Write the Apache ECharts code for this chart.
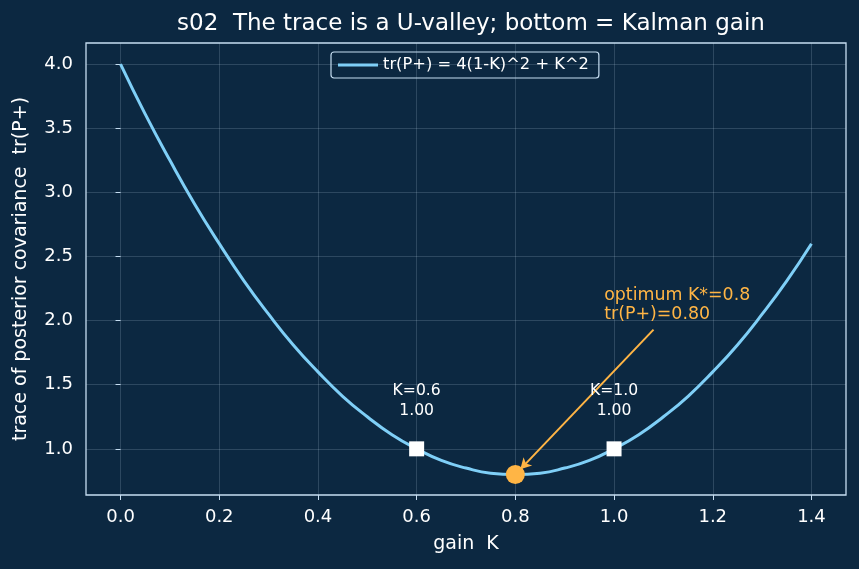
<!DOCTYPE html>
<html>
<head>
<meta charset="utf-8">
<script src="https://cdn.jsdelivr.net/npm/echarts@6/dist/echarts.min.js"></script>
<style>
  html, body { margin: 0; padding: 0; background: #0c2841; }
  #chart { width: 859px; height: 569px; }
</style>
</head>
<body>
<div id="chart"></div>
<script>
// gain K samples and the trace
var gainK = [0, 0.05, 0.1, 0.15, 0.2, 0.25, 0.3, 0.35, 0.4, 0.45, 0.5, 0.55, 0.6, 0.65, 0.7,
             0.75, 0.8, 0.85, 0.9, 0.95, 1.0, 1.05, 1.1, 1.15, 1.2, 1.25, 1.3, 1.35, 1.4];
var traceP = [4.0, 3.61, 3.25, 2.91, 2.6, 2.31, 2.05, 1.81, 1.6, 1.41, 1.25, 1.11, 1.0, 0.91, 0.85,
              0.81, 0.8, 0.81, 0.85, 0.91, 1.0, 1.11, 1.25, 1.41, 1.6, 1.81, 2.05, 2.31, 2.6];
// marked gains
var markK = [0.6, 1.0];
var markTr = [1.0, 1.0];
var optK = 0.8;
var optTr = 0.8;
// tick labels
var xTicks = [0, 0.2, 0.4, 0.6, 0.8, 1.0, 1.2, 1.4];
var yTicks = [1.0, 1.5, 2.0, 2.5, 3.0, 3.5, 4.0];
// arrow + note
var arrowFrom = [1.08, 1.93];
var arrowTo = [0.81, 0.84];
var notePos = [0.98, 2.0];

var curveColor = '#7fcff7';
var optColor = '#ffb545';
var frameColor = '#c6def2';
var font = 'DejaVu Sans';

var curveData = gainK.map(function (k, i) { return [k, traceP[i]]; });
var markData = markK.map(function (k, i) { return [k, markTr[i]]; });

var chart = echarts.init(document.getElementById('chart'));
var option = {
  backgroundColor: '#0c2841',
  animation: false,
  textStyle: { fontFamily: font },
  title: {
    text: 's02  The trace is a U-valley; bottom = Kalman gain',
    left: 466,
    textAlign: 'center',
    top: 8,
    textStyle: { color: '#ffffff', fontSize: 23, fontWeight: 'normal', fontFamily: font }
  },
  legend: {
    top: 52,
    left: 331,
    padding: [5, 10, 5, 7],
    borderColor: frameColor,
    borderWidth: 1.2,
    borderRadius: 3,
    itemWidth: 40,
    itemHeight: 3,
    textStyle: { color: '#ffffff', fontSize: 16.3, fontFamily: font },
    data: [{ name: 'tr(P+) = 4(1-K)^2 + K^2', icon: 'rect' }]
  },
  grid: { left: 86, right: 13, top: 43, bottom: 74, show: true, borderColor: frameColor, borderWidth: 1.3 },
  xAxis: {
    type: 'value',
    min: -0.07,
    max: 1.47,
    name: 'gain  K',
    nameLocation: 'middle',
    nameGap: 40,
    nameTextStyle: { color: '#ffffff', fontSize: 19, fontFamily: font },
    axisLine: { show: false },
    axisTick: { show: true, customValues: xTicks, length: 5, lineStyle: { color: frameColor } },
    axisLabel: {
      customValues: xTicks, color: '#ffffff', fontSize: 18, margin: 13,
      formatter: function (v) { return v.toFixed(1); }
    },
    splitLine: { show: true, lineStyle: { color: 'rgba(200,220,240,0.18)', width: 1 } }
  },
  yAxis: {
    type: 'value',
    min: 0.64,
    max: 4.165,
    name: 'trace of posterior covariance  tr(P+)',
    nameLocation: 'middle',
    nameGap: 55,
    nameTextStyle: { color: '#ffffff', fontSize: 19, fontFamily: font },
    axisLine: { show: false },
    axisTick: { show: true, customValues: yTicks, length: 5, lineStyle: { color: frameColor } },
    axisLabel: {
      customValues: yTicks, color: '#ffffff', fontSize: 18, margin: 13,
      formatter: function (v) { return v.toFixed(1); }
    },
    splitLine: { show: true, lineStyle: { color: 'rgba(200,220,240,0.18)', width: 1 } }
  },
  series: [
    {
      name: 'tr(P+) = 4(1-K)^2 + K^2',
      type: 'line',
      data: curveData,
      smooth: true,
      showSymbol: false,
      color: curveColor,
      lineStyle: { color: curveColor, width: 3 },
      z: 3
    },
    {
      name: 'marks',
      type: 'scatter',
      data: markData,
      symbol: 'rect',
      symbolSize: 15,
      itemStyle: { color: '#ffffff', opacity: 1 },
      label: {
        show: true,
        position: 'top',
        distance: 20,
        color: '#ffffff',
        fontSize: 15.6,
        lineHeight: 20,
        formatter: function (p) { return 'K=' + p.value[0].toFixed(1) + '\n' + p.value[1].toFixed(2); }
      },
      z: 5
    },
    {
      name: 'opt',
      type: 'scatter',
      data: [[optK, optTr]],
      symbol: 'circle',
      symbolSize: 19,
      itemStyle: { color: optColor, opacity: 1 },
      z: 6,
      markLine: {
        silent: true,
        symbol: ['none', 'arrow'],
        symbolSize: [9, 11],
        label: { show: false },
        lineStyle: { color: optColor, width: 2, type: 'solid' },
        data: [[{ coord: arrowFrom }, { coord: arrowTo }]]
      },
      markPoint: {
        silent: true,
        symbol: 'circle',
        symbolSize: 0,
        data: [{ coord: notePos }],
        label: {
          show: true,
          position: [0, 0],
          offset: [0, 3],
          align: 'left',
          verticalAlign: 'bottom',
          color: optColor,
          fontSize: 17.4,
          lineHeight: 19,
          formatter: 'optimum K*=' + optK.toFixed(1) + '\ntr(P+)=' + optTr.toFixed(2)
        }
      }
    }
  ]
};
chart.setOption(option);
</script>
</body>
</html>
